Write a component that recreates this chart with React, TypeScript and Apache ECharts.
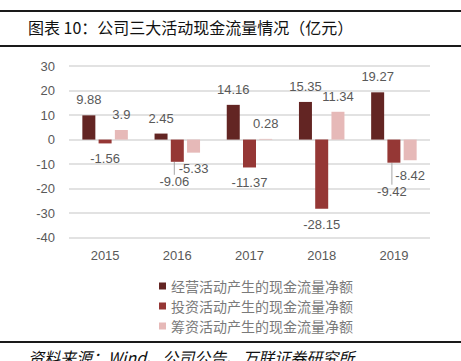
import React, { useEffect, useRef } from "react";
import * as echarts from "echarts";

const years = ["2015", "2016", "2017", "2018", "2019"];
const operating = [9.88, 2.45, 14.16, 15.35, 19.27];
const investing = [-1.56, -9.06, -11.37, -28.15, -9.42];
const financing = [3.9, -5.33, 0.28, 11.34, -8.42];
const seriesNames = [
  "经营活动产生的现金流量净额",
  "投资活动产生的现金流量净额",
  "筹资活动产生的现金流量净额",
];
const colors = ["#632523", "#953735", "#E6B9B8"];
const title = "图表 10：公司三大活动现金流量情况（亿元）";
const source = "资料来源：Wind、公司公告、万联证券研究所";
// label nudges (dx, dy) for crowded labels: [seriesIndex, dataIndex, dx, dy]
const labelNudges: [number, number, number, number][] = [
  [1, 1, -3, 4],
  [1, 4, -2, 13],
];

export default function App() {
  const ref = useRef<HTMLDivElement>(null);
  useEffect(() => {
    if (!ref.current) return;
    const chart = echarts.init(ref.current, null, { renderer: "svg" });
    const numFont = "'Liberation Sans', Arial, sans-serif";
    const cjkFont = "'Noto Sans CJK SC', sans-serif";
    const mk = (vals: number[], si: number) =>
      vals.map((v, di) => {
        const nudged = labelNudges.some((n) => n[0] === si && n[1] === di);
        return {
          value: v,
          label: { position: v >= 0 ? "top" : "bottom" },
          labelLine: { show: nudged },
        };
      });
    const allSeries = [operating, investing, financing].map((vals, si) => ({
      name: seriesNames[si],
      type: "bar",
      barWidth: 13,
      barGap: "25%",
      itemStyle: { color: colors[si] },
      data: mk(vals, si),
      label: {
        show: true,
        distance: 9,
        color: "#595959",
        fontSize: 13,
        fontFamily: numFont,
        formatter: (p: any) => String(p.value),
      },
      labelLine: { show: false, lineStyle: { color: "#a6a6a6", width: 1 } },
      labelLayout: (params: any) => {
        const n = labelNudges.find(
          (x) => x[0] === params.seriesIndex && x[1] === params.dataIndex
        );
        return n ? { dx: n[2], dy: n[3] } : {};
      },
    }));
    chart.setOption({
      animation: false,
      grid: { left: 69, right: 31, top: 66, bottom: 123.3 },
      xAxis: {
        type: "category",
        data: years,
        axisLine: { show: false },
        axisTick: { show: false },
        axisLabel: { color: "#595959", fontSize: 13, fontFamily: numFont, margin: 11 },
      },
      yAxis: {
        type: "value",
        min: -40,
        max: 30,
        interval: 10,
        axisLine: { show: false },
        axisTick: { show: false },
        splitLine: { lineStyle: { color: "#d9d9d9", width: 1.5 } },
        axisLabel: { color: "#595959", fontSize: 13, fontFamily: numFont, margin: 14 },
      },
      legend: {
        orient: "vertical",
        left: 154,
        top: 274,
        itemGap: 6,
        itemWidth: 7,
        itemHeight: 7,
        icon: "rect",
        textStyle: { color: "#7a7a7a", fontSize: 14, fontFamily: cjkFont },
        data: seriesNames,
      },
      graphic: [
        { type: "line", shape: { x1: 0, y1: 11, x2: 461, y2: 11 }, style: { stroke: "#1a1a1a", lineWidth: 2 } },
        { type: "line", shape: { x1: 0, y1: 46, x2: 461, y2: 46 }, style: { stroke: "#1a1a1a", lineWidth: 2 } },
        { type: "line", shape: { x1: 0, y1: 342, x2: 461, y2: 342 }, style: { stroke: "#1a1a1a", lineWidth: 2 } },
        {
          type: "text",
          x: 28,
          y: 27,
          style: { text: title, fill: "#111", fontSize: 16, fontFamily: cjkFont, verticalAlign: "middle" },
        },
        {
          type: "text",
          x: 28,
          y: 357,
          style: {
            text: source,
            fill: "#111",
            fontSize: 16,
            fontStyle: "italic",
            fontFamily: cjkFont,
            verticalAlign: "middle",
          },
        },
      ],
      series: allSeries,
    });
    return () => chart.dispose();
  }, []);
  return (
    <div
      ref={ref}
      style={{ position: "fixed", left: 0, top: 0, width: 461, height: 361, background: "#fff" }}
    />
  );
}
